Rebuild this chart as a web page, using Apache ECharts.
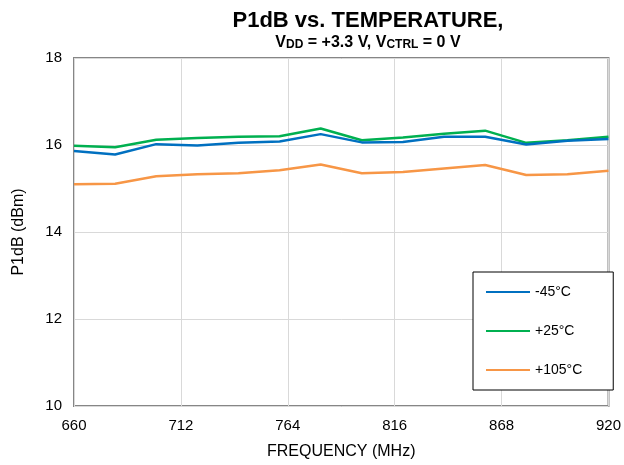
<!DOCTYPE html>
<html>
<head>
<meta charset="utf-8">
<script src="https://cdn.jsdelivr.net/npm/echarts@6/dist/echarts.min.js"></script>
<style>html,body{margin:0;padding:0;background:#fff}#c{width:624px;height:465px}</style>
</head>
<body>
<div id="c"></div>
<script>
const frequencies = [660, 680, 700, 720, 740, 760, 780, 800, 820, 840, 860, 880, 900, 920];
const seriesNames = ['-45°C', '+25°C', '+105°C'];
const minus45 = [15.86, 15.78, 16.02, 15.99, 16.05, 16.08, 16.25, 16.06, 16.07, 16.19, 16.19, 16.01, 16.10, 16.14];
const plus25 = [15.98, 15.95, 16.12, 16.16, 16.19, 16.20, 16.38, 16.11, 16.17, 16.26, 16.33, 16.05, 16.11, 16.19];
const plus105 = [15.10, 15.11, 15.28, 15.33, 15.35, 15.42, 15.55, 15.35, 15.38, 15.46, 15.54, 15.31, 15.33, 15.41];
const xTicks = [660, 712, 764, 816, 868, 920];
const yTicks = [10, 12, 14, 16, 18];

const FONT = 'Liberation Sans, Arial, sans-serif';
const colors = ['#0070C0', '#00B050', '#F79646'];
const allValues = [minus45, plus25, plus105];

const chart = echarts.init(document.getElementById('c'), null, {renderer: 'canvas'});
chart.setOption({
  animation: false,
  textStyle: {fontFamily: FONT},
  title: {
    text: 'P1dB vs. TEMPERATURE,',
    left: 363, top: 5, textAlign: 'center', itemGap: 1,
    textStyle: {fontFamily: FONT, fontSize: 22, fontWeight: 'bold', color: '#000'},
    subtext: '{n|V}{s|DD}{n| = +3.3 V, V}{s|CTRL}{n| = 0 V}',
    subtextStyle: {
      fontFamily: FONT,
      rich: {
        n: {fontFamily: FONT, fontSize: 16, fontWeight: 'bold', color: '#000', lineHeight: 18, verticalAlign: 'bottom'},
        s: {fontFamily: FONT, fontSize: 12, fontWeight: 'bold', color: '#000', lineHeight: 18, verticalAlign: 'bottom', padding: [6, 0, 0, 0]}
      }
    }
  },
  grid: {
    left: 74, right: 12, top: 58, bottom: 59,
    show: true, borderColor: '#868686', borderWidth: 2, containLabel: false
  },
  xAxis: {
    type: 'value', min: xTicks[0], max: xTicks[xTicks.length - 1], interval: 52,
    name: 'FREQUENCY (MHz)', nameLocation: 'middle', nameGap: 38,
    nameTextStyle: {fontFamily: FONT, fontSize: 16, color: '#000'},
    axisLine: {show: false}, axisTick: {show: false},
    axisLabel: {fontFamily: FONT, fontSize: 15, color: '#000', margin: 12},
    splitLine: {show: true, lineStyle: {color: '#D9D9D9', width: 1}}
  },
  yAxis: {
    type: 'value', min: yTicks[0], max: yTicks[yTicks.length - 1], interval: 2,
    name: 'P1dB (dBm)', nameLocation: 'middle', nameGap: 47,
    nameTextStyle: {fontFamily: FONT, fontSize: 16, color: '#000'},
    axisLine: {show: false}, axisTick: {show: false},
    axisLabel: {fontFamily: FONT, fontSize: 15, color: '#000', margin: 12},
    splitLine: {show: true, lineStyle: {color: '#D9D9D9', width: 1}}
  },
  legend: {
    orient: 'vertical', left: 473, top: 272,
    backgroundColor: '#fff', borderColor: '#000', borderWidth: 1,
    padding: [12, 31, 12, 13],
    itemWidth: 44, itemHeight: 14, itemGap: 23,
    icon: 'path://M0,6 L44,6 L44,8 L0,8 Z',
    textStyle: {fontFamily: FONT, fontSize: 14, color: '#000', lineHeight: 16},
    data: seriesNames
  },
  series: seriesNames.map((name, i) => ({
    name: name, type: 'line', showSymbol: false, symbol: 'none',
    data: frequencies.map((f, j) => [f, allValues[i][j]]),
    lineStyle: {color: colors[i], width: 2.5},
    itemStyle: {color: colors[i]},
    z: 3 - i
  }))
});
</script>
</body>
</html>
